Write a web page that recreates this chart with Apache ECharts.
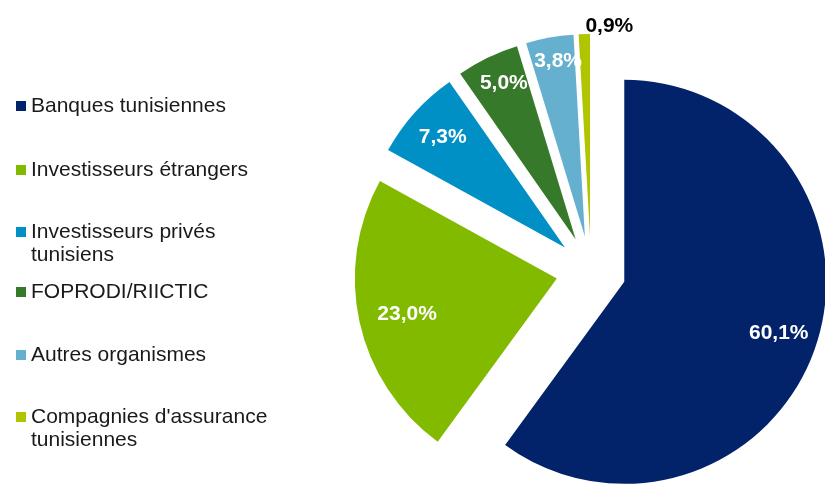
<!DOCTYPE html>
<html><head><meta charset="utf-8">
<script src="https://cdn.jsdelivr.net/npm/echarts@6/dist/echarts.min.js"></script>
<style>html,body{margin:0;padding:0;background:#fff}#c{width:825px;height:484px}</style>
</head><body><div id="c"></div>
<script>
const categories = ['Banques tunisiennes', 'Investisseurs étrangers', 'Investisseurs privés\ntunisiens', 'FOPRODI/RIICTIC', 'Autres organismes', "Compagnies d'assurance\ntunisiennes"];
const values = [60.1, 23.0, 7.3, 5.0, 3.8, 0.9];
const colors = ['#022369', '#82BA00', '#0090C6', '#37792A', '#65AFCF', '#B1C400'];

const R = 202, CX = 591, CY = 271, OFF = 35;
const legendTops = [106, 170, 232, 292, 355, 417];
// label nudges: [left padding, upward shift]
const labelNudge = [[-4, 0], [22, 0], [0, 0], [0, 8], [4, 13], [48, 45]];
const pct = v => v.toFixed(1).replace('.', ',') + '%';

const pieData = categories.map((n, i) => ({ name: n, value: values[i], selected: true, itemStyle: { color: colors[i] } }));
const labelData = categories.map((n, i) => {
  const [px, up] = labelNudge[i];
  const lab = {
    padding: [0, px < 0 ? -px : 0, 0, px > 0 ? px : 0],
    formatter: up > 0 ? pct(values[i]) + '\n ' : pct(values[i])
  };
  if (up > 0) lab.lineHeight = up * 2;
  if (i === 5) lab.color = '#000';
  return { name: n, value: values[i], selected: true, itemStyle: { color: 'rgba(0,0,0,0)' }, label: lab };
});

const legends = categories.map((n, i) => {
  const two = n.indexOf('\n') >= 0;
  return {
    data: [n],
    formatter: name => (two ? ' \n' + name : name),
    left: 16, top: legendTops[i] - (two ? 34.5 : 11.5), orient: 'vertical', padding: 0,
    icon: 'rect', itemWidth: 10, itemHeight: 10, itemGap: 5, selectedMode: false,
    textStyle: { fontSize: 21, fontFamily: 'Liberation Sans, Arial', color: '#1a1a1a', lineHeight: 23 }
  };
});

const chart = echarts.init(document.getElementById('c'));
chart.setOption({
  animation: false,
  legend: legends,
  series: [{
    type: 'pie', center: [CX, CY], radius: [0, R], startAngle: 90, clockwise: true,
    selectedMode: 'multiple', selectedOffset: OFF, silent: true,
    label: { show: false }, labelLine: { show: false },
    emphasis: { disabled: true },
    data: pieData
  }, {
    type: 'pie', center: [CX, CY], radius: [R * 0.6, R], startAngle: 90, clockwise: true,
    selectedMode: 'multiple', selectedOffset: OFF, silent: true, avoidLabelOverlap: false,
    itemStyle: { color: 'rgba(0,0,0,0)' },
    label: { show: true, position: 'inside', color: '#fff', fontSize: 21, fontWeight: 'bold', fontFamily: 'Liberation Sans, Arial' },
    labelLine: { show: false },
    labelLayout: { hideOverlap: false },
    emphasis: { disabled: true },
    data: labelData
  }]
});
</script></body></html>
